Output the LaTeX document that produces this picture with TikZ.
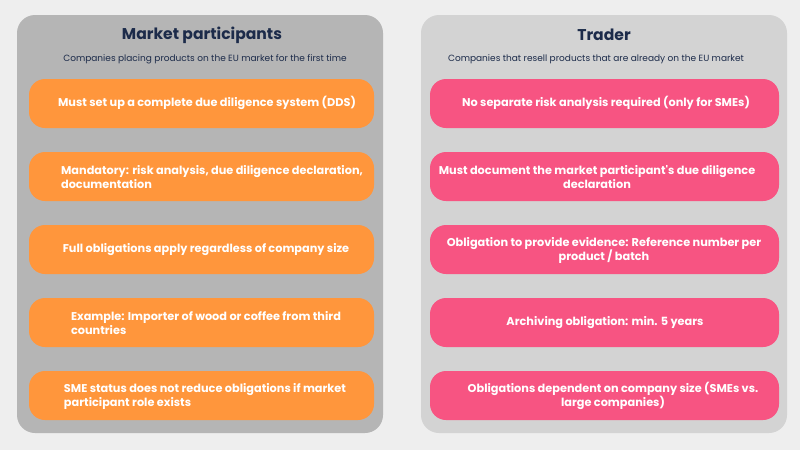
\documentclass[tikz,border=0pt]{standalone}
\usepackage{fontspec}
\setmainfont{Poppins}
\definecolor{bg}{HTML}{EEEEEE}
\definecolor{panelL}{HTML}{B5B5B5}
\definecolor{panelR}{HTML}{D3D3D3}
\definecolor{orng}{HTML}{FF963C}
\definecolor{pnk}{HTML}{F75482}
\definecolor{navy}{HTML}{1C2B4A}
\tikzset{
  panel/.style={rounded corners=18pt},
  pill/.style={rounded corners=16pt},
  txt/.style={text=white,font=\bfseries\fontsize{11.3}{14}\selectfont,align=left,inner sep=0pt},
  txtc/.style={txt,align=center},
  ttl/.style={text=navy,font=\bfseries\fontsize{15.6}{19}\selectfont,inner sep=0pt},
  sub/.style={text=navy,font=\fontsize{9}{11}\selectfont,inner sep=0pt}
}
\begin{document}
\begin{tikzpicture}[x=1pt,y=-1pt]
\fill[bg] (0,0) rectangle (800,450);
\useasboundingbox (0,0) rectangle (800,450);
\fill[panelL,panel] (17,15) rectangle (383,433);
\fill[panelR,panel] (421,15) rectangle (787,433);
\node[ttl] (t1) at (202,35) {Market participants};
\node[sub] (s1) at (205,59) {Companies placing products on the EU market for the first time};
\node[ttl] (t2) at (604,35) {Trader};
\node[sub] (s2) at (596,59) {Companies that resell products that are already on the EU market};
\foreach \y [count=\i] in {79,152,225,298,371}{
  \fill[orng,pill] (29,\y) rectangle (374,\y+49);
  \fill[pnk,pill] (430,\y) rectangle (779,\y+49);
}
\node[txt] (l1) at (207,103) {Must set up a complete due diligence system (DDS)};
\node[txt] (l2) at (212,177) {Mandatory: risk analysis, due diligence declaration,\\documentation};
\node[txt] (l3) at (206,250) {Full obligations apply regardless of company size};
\node[txt] (l4) at (206,323) {Example: Importer of wood or coffee from third\\countries};
\node[txt] (l5) at (205,396) {SME status does not reduce obligations if market\\participant role exists};
\node[txt] (r1) at (606,103) {No separate risk analysis required (only for SMEs)};
\node[txtc] (r2) at (597,177) {Must document the market participant\textquotesingle s due diligence\\declaration};
\node[txtc] (r3) at (604,250) {Obligation to provide evidence: Reference number per\\product / batch};
\node[txt] (r4) at (605,323) {Archiving obligation: min. 5 years};
\node[txtc] (r5) at (613,396) {Obligations dependent on company size (SMEs vs.\\large companies)};
\end{tikzpicture}
\end{document}
